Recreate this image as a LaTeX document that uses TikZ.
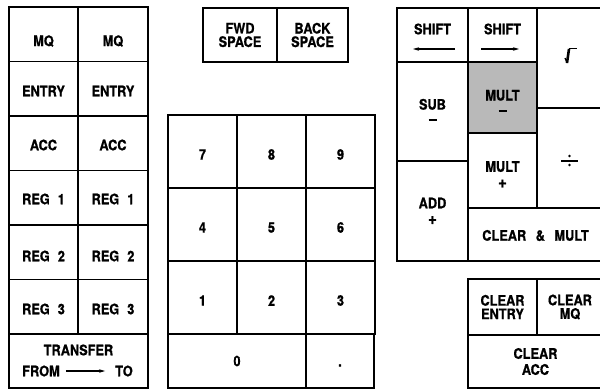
\documentclass[tikz,border=0pt]{standalone}
\usepackage{fontspec}
\setmainfont[FakeStretch=0.88, BoldFeatures={FakeBold=0.8}]{TeX Gyre Heros}
\usetikzlibrary{arrows.meta}
\newcommand\keyminus{\rule[3.5pt]{8pt}{1.8pt}}
\newcommand\keyplus{{\fontsize{17}{13.5}\selectfont +}}
\tikzset{
  keyline/.style={line width=1.6pt},
  keylabel/.style={font=\bfseries\fontsize{14.5}{13.5}\selectfont, align=center, inner sep=0pt},
  arr/.style={line width=1.2pt, -{Stealth[length=6pt,width=3.5pt]}}
}
\begin{document}
\begin{tikzpicture}[x=1pt, y=-1pt]
	\useasboundingbox (0,0) rectangle (600,389);
	\clip (0,0) rectangle (600,389);
	% register keys
	\foreach \lbl/\ly [count=\i, evaluate=\i as \top using 7+54.5*(\i-1), evaluate=\i as \bot using 7+54.5*\i] in {MQ/41,ENTRY/91,ACC/145,REG\hspace{8pt}1/199,REG\hspace{8pt}2/256,REG\hspace{8pt}3/309} {
		\draw [keyline] (9,\top) rectangle (78,\bot);
		\draw [keyline] (78,\top) rectangle (148,\bot);
		\node [keylabel] (l\i) at (43.5,\ly) {\lbl};
		\node [keylabel] (r\i) at (113,\ly) {\lbl};
	}
	\draw [keyline] (9,334) rectangle (148,388);
	\node [keylabel] (transfer) at (78.5,350) {TRANSFER};
	\node [keylabel] (from) at (41,371) {FROM};
	\node [keylabel] (to) at (124,371) {TO};
	\draw [arr, shorten <=6pt, shorten >=10pt] (from) -- (to);
	% space keys
	\draw [keyline] (203,8) rectangle (277,62) node [keylabel, midway] (fwd) {FWD\\SPACE};
	\draw [keyline] (277,8) rectangle (348,62) node [keylabel, midway] (back) {BACK\\SPACE};
	% digit keys
	\foreach \d [count=\k from 0, evaluate=\k as \kx using {168+69*mod(\k,3)}, evaluate=\k as \ky using {115+73*int(\k/3)}] in {7,8,9,4,5,6,1,2,3} {
		\draw [keyline] (\kx,\ky) rectangle (\kx+69,\ky+73) node [keylabel, midway, yshift=-3pt] (d\d) {\d};
	}
	\draw [keyline] (168,334) rectangle (306,388) node [keylabel, midway] (d0) {0};
	\draw [keyline] (306,334) rectangle (374,388);
	\node [keylabel] (point) at (340,365.5) {.};
	% operation keys
	\draw [keyline] (397,8) rectangle (468,62);
	\node [keylabel] (shl) at (432.5,29) {SHIFT};
	\coordinate (shla) at (455,49);
	\coordinate (shlb) at (413,49);
	\draw [arr] (shla) -- (shlb);
	\draw [keyline] (468,8) rectangle (537,62);
	\node [keylabel] (shr) at (502.5,29) {SHIFT};
	\coordinate (shra) at (481,49);
	\coordinate (shrb) at (519,49);
	\draw [arr] (shra) -- (shrb);
	\draw [keyline] (537,8) rectangle (603,108);
	\coordinate (root) at (569,56);
	\draw [line width=1.2pt] ([shift={(-4,2)}]root) -- ([shift={(-2,7)}]root);
	\draw [line width=2.6pt] ([shift={(-2,7)}]root) -- ([shift={(0,-7)}]root);
	\draw [line width=1.4pt] ([shift={(-0.5,-7.5)}]root) -- ([shift={(8,-7.5)}]root);
	\draw [keyline] (397,62) rectangle (468,161) node [keylabel, midway] (sub) {SUB\\[1pt]\keyminus};
	\draw [keyline, fill=gray!55] (468,62) rectangle (537,133) node [keylabel, midway, yshift=-5pt] (multm) {MULT\\[1pt]\keyminus};
	\draw [keyline] (537,108) rectangle (603,208);
	\coordinate (divc) at (569.5,160.5);
	\draw [line width=2pt] ([xshift=-8.5pt]divc) -- ([xshift=8.5pt]divc);
	\fill ([yshift=4.5pt]divc) circle (1.4pt) ([yshift=-4.5pt]divc) circle (1.4pt);
	\draw [keyline] (468,133) rectangle (537,208) node [keylabel, midway, yshift=-4pt] (multp) {MULT\\[2.5pt]\keyplus};
	\draw [keyline] (397,161) rectangle (468,261) node [keylabel, midway] (add) {ADD\\[2.5pt]\keyplus};
	\draw [keyline] (468,208) rectangle (603,261) node [keylabel, midway, yshift=-1pt] (clmult) {CLEAR\hspace{9.5pt}\&\hspace{9.5pt}MULT};
	% clear keys
	\draw [keyline] (468,279) rectangle (537,335) node [keylabel, midway] (clentry) {CLEAR\\ENTRY};
	\draw [keyline] (537,279) rectangle (603,335) node [keylabel, midway] (clmq) {CLEAR\\MQ};
	\draw [keyline] (468,335) rectangle (603,388) node [keylabel, midway] (clacc) {CLEAR\\[2.5pt]ACC};
\end{tikzpicture}
\end{document}
